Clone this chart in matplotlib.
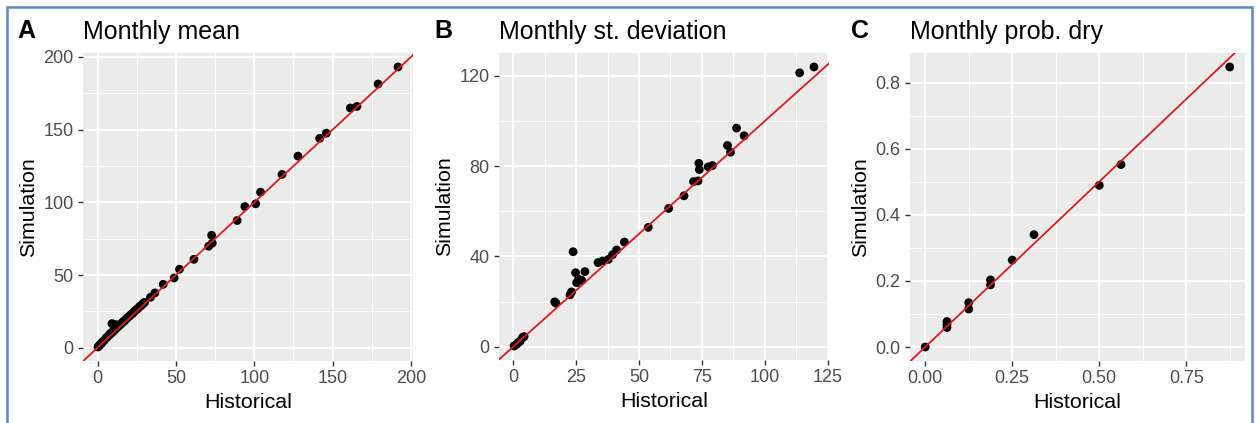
"""
Three-panel Historical vs Simulation scatter, ggplot look.
Saves out.png (1257x423).
"""

import matplotlib
matplotlib.use("Agg")
import matplotlib.pyplot as plt
import numpy as np
from matplotlib.patches import Rectangle

plt.rcParams["font.family"] = ["Liberation Sans", "DejaVu Sans"]

# ---------------------------------------------------------------------------
# Data
# ---------------------------------------------------------------------------

HIST_MEAN = [0.3, 0.8, 1.2, 1.8, 2.5, 3.0, 4.2, 5.5, 6.5, 7.5, 8.3, 9.0, 9.6,
             10.4, 11.2, 12.0, 12.8, 13.5, 14.3, 15.0, 15.8, 16.5, 17.3, 18.0,
             18.8, 19.5, 20.3, 21.0, 21.8, 22.5, 23.3, 24.0, 24.8, 25.5, 26.3,
             27.0, 27.8, 28.5, 29.3, 30.0, 9.2, 10.5, 11.8,
             33.8, 36.6, 41.9, 48.9, 52.3, 61.5, 70.9, 73.2, 72.8, 89.1, 94.0,
             100.9, 104.0, 117.7, 127.9, 141.7, 146.0, 161.3, 165.5, 179.0, 191.7]
SIM_MEAN = [0.5, 1.2, 1.5, 2.4, 3.0, 3.8, 5.0, 6.8, 7.6, 8.8, 9.8, 10.2, 11.0,
            11.6, 12.6, 13.4, 14.2, 14.9, 15.8, 16.4, 17.3, 18.0, 18.6, 19.4,
            20.3, 21.0, 21.6, 22.5, 23.2, 23.8, 24.7, 25.4, 26.2, 26.8, 27.6,
            28.4, 29.0, 29.8, 30.6, 31.2, 16.6, 16.0, 15.8,
            34.7, 37.7, 43.6, 48.0, 54.0, 60.8, 69.8, 71.9, 77.4, 87.5, 97.1,
            99.0, 107.0, 119.2, 131.8, 144.0, 147.6, 164.9, 166.0, 181.4, 193.1]

HIST_SD = [0.3, 0.8, 1.5, 2.0, 2.8, 3.7, 4.3, 16.5, 17.0, 22.6, 23.2, 23.8,
           24.8, 25.2, 25.9, 27.2, 28.5, 33.7, 35.6, 37.8, 39.5, 41.1, 44.2,
           53.7, 61.8, 67.9, 71.7, 73.5, 73.8, 74.0, 77.5, 79.2, 85.2, 86.4,
           88.8, 91.8, 113.9, 119.6]
SIM_SD = [0.3, 0.7, 1.2, 1.9, 2.5, 4.1, 4.5, 19.9, 19.3, 23.0, 24.3, 42.1,
          32.8, 28.4, 29.9, 29.5, 33.3, 37.3, 38.0, 38.7, 40.8, 42.9, 46.4,
          52.9, 61.3, 66.9, 73.2, 73.5, 81.3, 78.5, 79.7, 80.3, 89.2, 86.2,
          96.9, 93.5, 121.4, 124.0]

HIST_DRY = [0.0, 0.0625, 0.0625, 0.0625, 0.125, 0.125, 0.1875, 0.1875,
            0.25, 0.3125, 0.5, 0.5625, 0.875]
SIM_DRY = [0.0, 0.077, 0.059, 0.068, 0.134, 0.115, 0.203, 0.188,
           0.263, 0.340, 0.489, 0.552, 0.847]

PANELS = [
    ("A", "Monthly mean", HIST_MEAN, SIM_MEAN,
     [0, 50, 100, 150, 200], [0, 50, 100, 150, 200], "{:g}"),
    ("B", "Monthly st. deviation", HIST_SD, SIM_SD,
     [0, 25, 50, 75, 100, 125], [0, 40, 80, 120], "{:g}"),
    ("C", "Monthly prob. dry", HIST_DRY, SIM_DRY,
     [0.0, 0.25, 0.5, 0.75], [0.0, 0.2, 0.4, 0.6, 0.8], None),
]

# ---------------------------------------------------------------------------
# Style
# ---------------------------------------------------------------------------

PANEL_BG = "#EBEBEB"
TICK_TXT = "#4D4D4D"
TICK_COL = "#333333"
LINE_RED = "#E0191C"
BORDER   = "#5588CC"

W, H = 1257, 423
# axes boxes in pixels: left, right, top, bottom
BOXES = [(83, 413, 53, 361), (499, 829, 53, 360), (910, 1245, 53, 361)]
TAG_X = [17, 434, 851]


def _expand(vals, frac=0.05):
    lo, hi = min(vals), max(vals)
    pad = (hi - lo) * frac
    return lo - pad, hi + pad


def _minor(major):
    step = major[1] - major[0]
    return [m + step / 2 for m in [major[0] - step] + list(major)]


fig = plt.figure(figsize=(W / 100, H / 100), dpi=100)

for (tag, title, hx, sy, xt, yt, fmt), (l, r, t, b), tx in zip(PANELS, BOXES, TAG_X):
    ax = fig.add_axes([l / W, 1 - b / H, (r - l) / W, (b - t) / H])
    ax.set_facecolor(PANEL_BG)
    for sp in ax.spines.values():
        sp.set_visible(False)

    xlim = _expand(hx)
    ylim = _expand(sy)

    for v in _minor(xt):
        ax.axvline(v, color="white", lw=0.7, zorder=0)
    for v in _minor(yt):
        ax.axhline(v, color="white", lw=0.7, zorder=0)
    for v in xt:
        ax.axvline(v, color="white", lw=1.4, zorder=0)
    for v in yt:
        ax.axhline(v, color="white", lw=1.4, zorder=0)

    ax.scatter(hx, sy, s=40, color="black", edgecolors="none", zorder=3)
    ax.axline((0, 0), slope=1, color=LINE_RED, lw=1.3, zorder=4)

    ax.set_xlim(*xlim)
    ax.set_ylim(*ylim)
    ax.set_xticks(xt)
    ax.set_yticks(yt)
    if fmt:
        ax.set_xticklabels([fmt.format(v) for v in xt])
        ax.set_yticklabels([fmt.format(v) for v in yt])
    else:
        ax.set_xticklabels([f"{v:.2f}" for v in xt])
        ax.set_yticklabels([f"{v:.1f}" for v in yt])
    ax.tick_params(colors=TICK_COL, labelcolor=TICK_TXT, labelsize=13,
                   length=3.7, width=1.0, pad=3)

    ax.set_xlabel("Historical", fontsize=15.4, labelpad=4)
    ax.set_ylabel("Simulation", fontsize=15.4, labelpad=4)

    fig.text(tx / W, 1 - 38.5 / H, tag, fontsize=18, fontweight="bold",
             va="baseline", ha="left")
    fig.text(l / W, 1 - 38.5 / H, title, fontsize=18, va="baseline",
             ha="left")

# blue frame round the figure
fig.patches.append(Rectangle((7 / W, -0.02), (1252 - 7) / W, 1 - 7 / H + 0.02,
                             transform=fig.transFigure, fill=False,
                             edgecolor=BORDER, lw=1.8))

fig.savefig("out.png", dpi=100)
